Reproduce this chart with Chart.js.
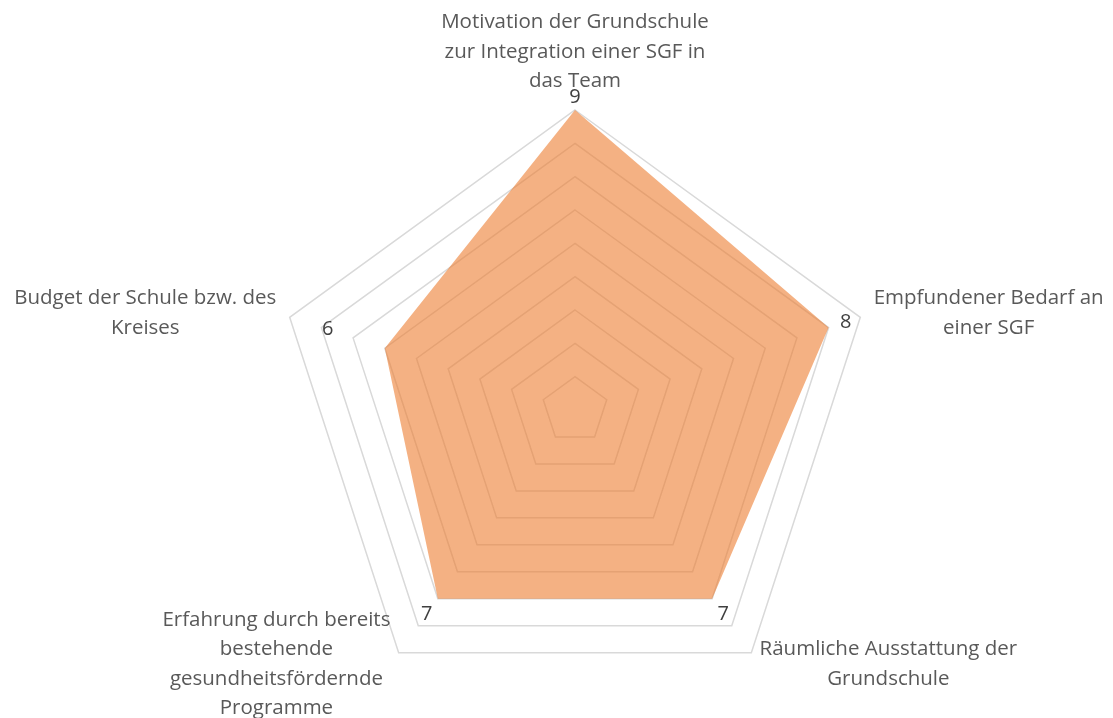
<!DOCTYPE html>
<html><head><meta charset="utf-8">
<script src="https://cdn.jsdelivr.net/npm/chart.js@4/dist/chart.umd.min.js"></script>
<style>html,body{margin:0;padding:0;background:#fff;overflow:hidden}</style>
</head><body>
<canvas id="c" width="1113" height="718"></canvas>
<script>
const categories = [
  ["Motivation der Grundschule", "zur Integration einer SGF in", "das Team"],
  ["Empfundener Bedarf an", "einer SGF"],
  ["Räumliche Ausstattung der", "Grundschule"],
  ["Erfahrung durch bereits", "bestehende", "gesundheitsfördernde", "Programme"],
  ["Budget der Schule bzw. des", "Kreises"]
];
const values = [9, 8, 7, 7, 6];
const axisMin = 0;
const axisMax = 9;
const axisStep = 1;

// label placement styles (pixel gaps outward along each axis)
const valueLabelGap = [13, 18, 19, 19, 60];
const axisLabelGap = 14;
const axisLabelLineHeight = 29.5;

const labelsPlugin = {
  id: 'customLabels',
  afterDatasetsDraw(chart) {
    const scale = chart.scales.r;
    const ctx = chart.ctx;
    ctx.save();
    ctx.font = '20.5px "Open Sans"';
    ctx.fillStyle = '#595959';
    ctx.textBaseline = 'middle';
    ctx.textAlign = 'center';
    const lh = axisLabelLineHeight;
    chart.data.labels.forEach((lines, i) => {
      const p = scale.getPointPosition(i, scale.drawingArea + axisLabelGap);
      const bw = Math.max(...lines.map(l => ctx.measureText(l).width));
      const bh = lines.length * lh;
      const dx = p.x - scale.xCenter;
      let cx, top;
      if (Math.abs(dx) < 1) { cx = p.x; top = p.y - bh; }
      else if (dx > 0) { cx = p.x + bw / 2; top = p.y - bh / 2; }
      else { cx = p.x - bw / 2; top = p.y - bh / 2; }
      lines.forEach((l, k) => ctx.fillText(l, cx, top + lh * (k + 0.5)));
    });
    ctx.font = '20px "Open Sans"';
    ctx.fillStyle = '#404040';
    chart.data.datasets[0].data.forEach((v, i) => {
      const d = scale.getDistanceFromCenterForValue(v) + valueLabelGap[i];
      const p = scale.getPointPosition(i, d);
      ctx.fillText(String(v), p.x, p.y);
    });
    ctx.restore();
  }
};

new Chart(document.getElementById('c'), {
  type: 'radar',
  data: {
    labels: categories,
    datasets: [{
      data: values,
      backgroundColor: 'rgba(237,125,49,0.6)',
      borderWidth: 0,
      pointRadius: 0,
      fill: true
    }]
  },
  options: {
    responsive: false,
    animation: false,
    layout: { padding: { left: 37, right: 0, top: 110, bottom: 8 } },
    plugins: { legend: { display: false }, tooltip: { enabled: false } },
    scales: {
      r: {
        min: axisMin,
        max: axisMax,
        ticks: { display: false, stepSize: axisStep },
        grid: { color: '#d9d9d9', lineWidth: 1.5 },
        angleLines: { display: false },
        pointLabels: { display: false }
      }
    }
  },
  plugins: [labelsPlugin]
});
</script>
</body></html>
